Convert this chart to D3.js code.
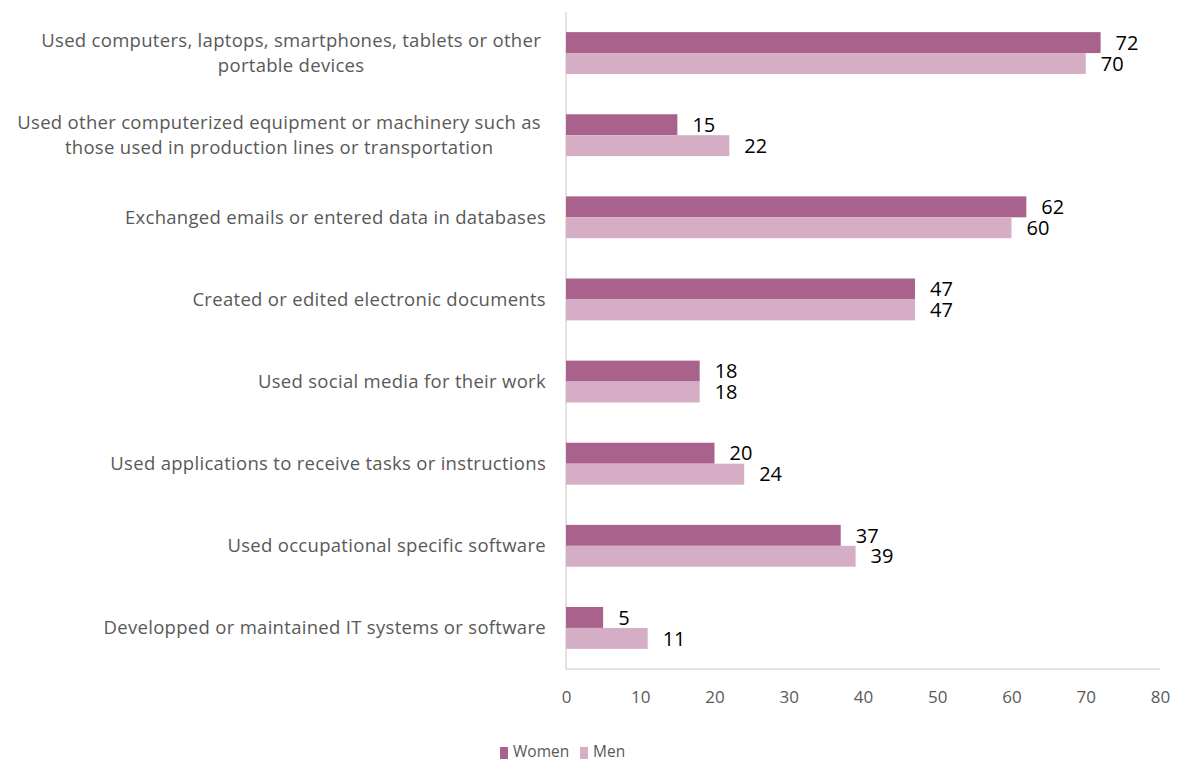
<!DOCTYPE html>
<html>
<head>
<meta charset="utf-8">
<script src="https://cdn.jsdelivr.net/npm/d3@7"></script>
<style>
  html, body { margin: 0; padding: 0; background: #fff; }
  svg text { font-family: "Open Sans", Lato, sans-serif; }
</style>
</head>
<body>
<svg id="chart" width="1179" height="762"></svg>
<script>
// Activities performed at work, by sex (%)
const categories = [
  ["Used computers, laptops, smartphones, tablets or other", "portable devices"],
  ["Used other computerized equipment or machinery such as", "those used in production lines or transportation"],
  ["Exchanged emails or entered data in databases"],
  ["Created or edited electronic documents"],
  ["Used social media for their work"],
  ["Used applications to receive tasks or instructions"],
  ["Used occupational specific software"],
  ["Developped or maintained IT systems or software"]
];
const women = [72, 15, 62, 47, 18, 20, 37, 5];
const men = [70, 22, 60, 47, 18, 24, 39, 11];
const seriesNames = ["Women", "Men"];
const xTicks = [0, 10, 20, 30, 40, 50, 60, 70, 80];
const colors = ["#a8628c", "#d5aec6"];

const svg = d3.select("#chart");
const margin = { left: 566, right: 19, top: 12, bottom: 93 };
const W = 1179, H = 762;

const x = d3.scaleLinear().domain([0, 80]).range([margin.left, W - margin.right]);
const y = d3.scaleBand().domain(d3.range(categories.length))
  .range([margin.top, H - margin.bottom]).paddingInner(0.49).paddingOuter(0.245);
const sub = d3.scaleBand().domain([0, 1]).range([0, y.bandwidth()]);

// Axis lines
svg.append("line").attr("x1", x(0)).attr("x2", x(0))
  .attr("y1", margin.top).attr("y2", H - margin.bottom)
  .attr("stroke", "#d9d9d9").attr("stroke-width", 1.5);
svg.append("line").attr("x1", x(0)).attr("x2", x(80))
  .attr("y1", H - margin.bottom).attr("y2", H - margin.bottom)
  .attr("stroke", "#d9d9d9").attr("stroke-width", 1.5);

// X tick labels
const xAxis = d3.axisBottom(x).tickValues(xTicks).tickSize(0).tickPadding(22);
const gx = svg.append("g").attr("transform", `translate(0,${H - margin.bottom})`).call(xAxis);
gx.select(".domain").remove();
gx.selectAll("text").attr("fill", "#595959").style("font-size", "17px")
  .style("font-family", "'Open Sans', Lato, sans-serif");

// Category labels (wrapped lines are centred within their block, block right aligned)
const labelRight = 546;
const lineH = 25;
categories.forEach((lines, i) => {
  const cy = y(i) + y.bandwidth() / 2;
  const g = svg.append("g");
  const texts = lines.map((ln, j) => g.append("text")
    .attr("y", cy + (j - (lines.length - 1) / 2) * lineH)
    .attr("dy", "0.35em")
    .attr("fill", "#595959").style("font-size", "18.5px")
    .style("letter-spacing", "0.3px").text(ln));
  if (lines.length === 1) {
    texts[0].attr("x", labelRight).attr("text-anchor", "end");
  } else {
    const wmax = d3.max(texts, t => t.node().getComputedTextLength());
    const cx = labelRight - 5 - wmax / 2;
    texts.forEach(t => t.attr("x", cx).attr("text-anchor", "middle"));
  }
});

// Bars and value labels
[women, men].forEach((vals, s) => {
  svg.append("g").selectAll("rect").data(vals).join("rect")
    .attr("x", x(0))
    .attr("y", (d, i) => y(i) + sub(s))
    .attr("width", d => x(d) - x(0))
    .attr("height", sub.bandwidth())
    .attr("fill", colors[s]);
  svg.append("g").selectAll("text").data(vals).join("text")
    .attr("x", d => x(d) + 15)
    .attr("y", (d, i) => y(i) + sub(s) + sub.bandwidth() / 2)
    .attr("dy", "0.36em")
    .attr("fill", "#000").style("font-size", "20px")
    .text(d => d);
});

// Legend
const legendX = [500, 580];
seriesNames.forEach((name, s) => {
  const lx = legendX[s];
  svg.append("rect").attr("x", lx).attr("y", 747).attr("width", 8).attr("height", 12).attr("fill", colors[s]);
  svg.append("text").attr("x", lx + 13).attr("y", 752).attr("dy", "0.35em")
    .attr("fill", "#595959").style("font-size", "15.5px").text(name);
});
</script>
</body>
</html>
